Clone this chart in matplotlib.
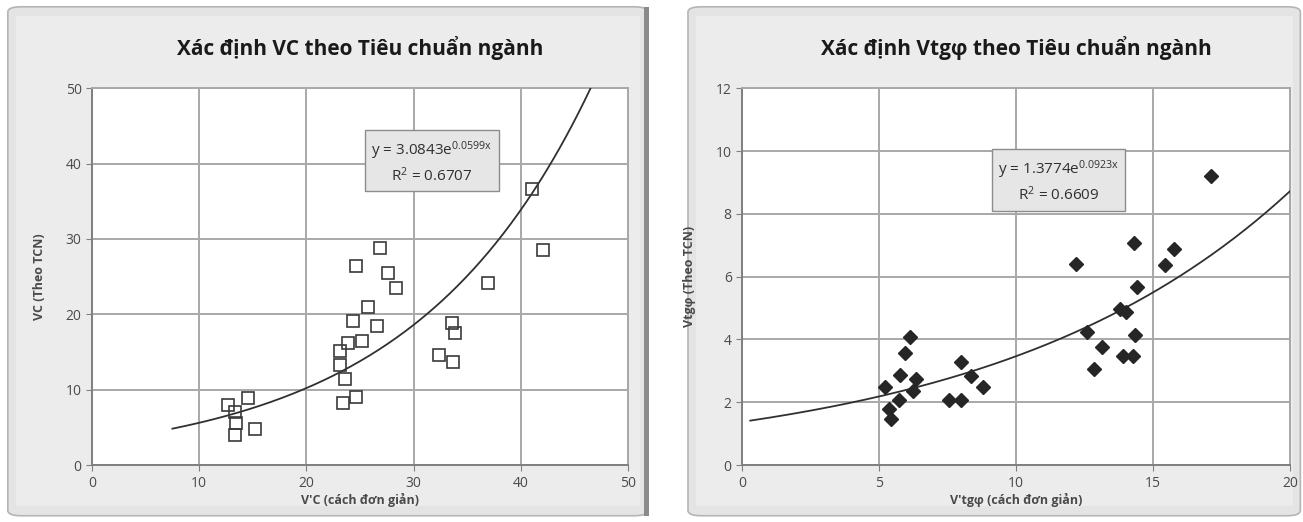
"""Two Excel-style scatter charts with exponential trendlines."""

import matplotlib
matplotlib.use("Agg")
import matplotlib.pyplot as plt
import numpy as np
from matplotlib.patches import FancyBboxPatch, Rectangle

plt.rcParams["font.family"] = ["Open Sans", "DejaVu Sans"]
plt.rcParams["mathtext.default"] = "regular"

# Left chart: VC
vc_simple = [12.7, 14.55, 13.3, 13.4, 13.3, 15.2,
             26.9, 24.6, 27.6, 28.4, 25.7, 24.3, 26.6, 25.2, 23.9, 23.1,
             23.1, 23.6, 24.6, 23.4, 32.4, 41.0, 42.1, 36.9, 33.6, 33.9, 33.7]
vc_tcn = [8.0, 8.9, 7.1, 5.6, 4.0, 4.8,
          28.8, 26.4, 25.5, 23.5, 21.0, 19.1, 18.4, 16.4, 16.2, 15.1,
          13.3, 11.4, 9.1, 8.2, 14.6, 36.6, 28.6, 24.1, 18.8, 17.5, 13.7]
vc_fit = (3.0843, 0.0599)
vc_fit_range = (7.5, 50)

# Right chart: Vtgphi
vt_simple = [6.13, 5.95, 5.77, 6.35, 5.2, 6.24, 5.73, 7.55, 5.35, 5.45,
             8.0, 8.0, 8.35, 8.8,
             14.3, 15.75, 12.2, 15.45, 14.4, 13.8, 14.0, 12.6, 14.35, 13.15,
             13.9, 14.25, 12.85, 17.1]
vt_tcn = [4.08, 3.57, 2.87, 2.74, 2.5, 2.36, 2.07, 2.07, 1.78, 1.46,
          2.07, 3.28, 2.85, 2.5,
          7.07, 6.88, 6.4, 6.37, 5.67, 4.97, 4.87, 4.24, 4.14, 3.76,
          3.47, 3.47, 3.06, 9.2]
vt_fit = (1.3774, 0.0923)
vt_fit_range = (0.3, 20)

GRID = "#a8a8a8"
SPINE = "#7f7f7f"
TEXT = "#4a4a4a"


def panel(fig, x0, x1):
    # chart-area background with a soft border
    fig.add_artist(FancyBboxPatch((x0, 0.012), x1 - x0, 0.975,
                                  boxstyle="round,pad=0,rounding_size=0.01",
                                  transform=fig.transFigure, facecolor="#e4e4e4",
                                  edgecolor="#b5b5b5", linewidth=1.2, zorder=0))
    fig.add_artist(Rectangle((x0 + 0.006, 0.03), x1 - x0 - 0.012, 0.94,
                             transform=fig.transFigure, facecolor="#ececec",
                             edgecolor="none", zorder=0))


def draw(ax, xs, ys, fit, fit_range, xmax, ymax, xstep, ystep,
         marker, filled, title, xlabel, ylabel, eq, r2, box_xy):
    a, b = fit
    xf = np.linspace(fit_range[0], fit_range[1], 300)
    yf = a * np.exp(b * xf)
    ax.plot(xf, yf, color="#303030", linewidth=1.3, zorder=3)
    if filled:
        ax.plot(xs, ys, linestyle="none", marker=marker, markersize=7,
                color="#262626", zorder=4)
    else:
        ax.plot(xs, ys, linestyle="none", marker=marker, markersize=8.5,
                markerfacecolor="none", markeredgecolor="#3a3a3a",
                markeredgewidth=1.2, zorder=4)

    ax.set_xlim(0, xmax)
    ax.set_ylim(0, ymax)
    ax.set_xticks(np.arange(0, xmax + 0.01, xstep))
    ax.set_yticks(np.arange(0, ymax + 0.01, ystep))
    ax.set_facecolor("white")
    ax.grid(True, color=GRID, linewidth=1.4)
    ax.set_axisbelow(True)
    for s in ax.spines.values():
        s.set_color(GRID)
        s.set_linewidth(1.4)
    ax.spines["left"].set_color(SPINE)
    ax.spines["bottom"].set_color(SPINE)
    ax.tick_params(colors=SPINE, labelcolor=TEXT, labelsize=10, length=4,
                   direction="out")

    ax.set_title(title, fontsize=15, fontweight="bold", color="#1a1a1a", pad=24)
    ax.set_xlabel(xlabel, fontsize=9, fontweight="bold", color=TEXT, labelpad=2)
    ax.set_ylabel(ylabel, fontsize=9, fontweight="bold", color=TEXT, labelpad=14)

    ax.text(box_xy[0], box_xy[1], f"y = {eq}e$^{{{b}x}}$\nR$^2$ = {r2}",
            transform=ax.transAxes, ha="center", va="center", fontsize=11,
            color="#303030", linespacing=1.35, zorder=5,
            bbox=dict(boxstyle="square,pad=0.4", facecolor="#e6e6e6",
                      edgecolor="#8c8c8c", linewidth=1))


fig = plt.figure(figsize=(13.03, 5.22), dpi=100)
panel(fig, 0.006, 0.497)
panel(fig, 0.528, 0.998)
# dark edge between the panels
fig.add_artist(Rectangle((0.494, 0.012), 0.004, 0.975, transform=fig.transFigure,
                         facecolor="#8a8a8a", edgecolor="none", zorder=0))

ax1 = fig.add_axes([0.0706, 0.109, 0.4114, 0.722])
draw(ax1, vc_simple, vc_tcn, vc_fit, vc_fit_range, 50, 50, 10, 10,
     "s", False, "Xác định VC theo Tiêu chuẩn ngành",
     "V'C (cách đơn giản)", "VC (Theo TCN)", "3.0843", "0.6707", (0.634, 0.804))

ax2 = fig.add_axes([0.5695, 0.109, 0.4206, 0.722])
draw(ax2, vt_simple, vt_tcn, vt_fit, vt_fit_range, 20, 12, 5, 2,
     "D", True, "Xác định Vtgφ theo Tiêu chuẩn ngành",
     "V'tgφ (cách đơn giản)", "Vtgφ (Theo TCN)", "1.3774", "0.6609", (0.577, 0.753))

fig.savefig("out.png", dpi=100)
